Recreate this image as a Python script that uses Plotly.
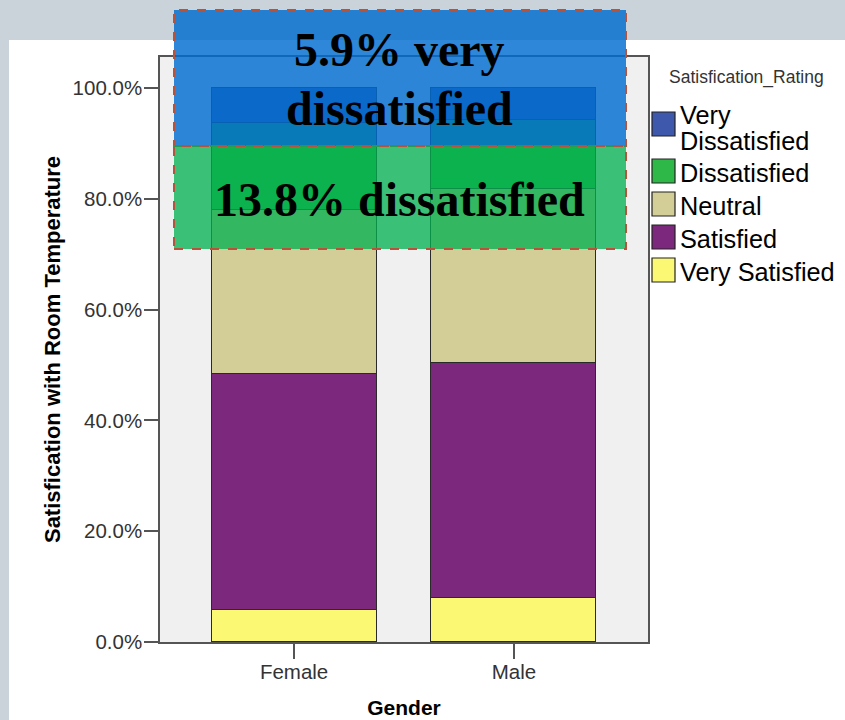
import plotly.graph_objects as go

# ---- data -------------------------------------------------------------
genders = ["Female", "Male"]
ratings = ["Very Satisfied", "Satisfied", "Neutral", "Dissatisfied", "Very Dissatisfied"]
very_satisfied = [5.7, 8.0]
satisfied = [42.7, 42.4]
neutral = [29.5, 31.4]
dissatisfied = [15.8, 12.5]
very_dissatisfied = [6.3, 5.7]
rating_colors = ["#FBF873", "#7C287D", "#D3CE97", "#2EB848", "#3E58AC"]
y_ticks = [0, 20, 40, 60, 80, 100]
overall_very_dissatisfied = 5.9
overall_dissatisfied = 13.8

series = [very_satisfied, satisfied, neutral, dissatisfied, very_dissatisfied]

# ---- page geometry (pixels) -------------------------------------------
W, H = 845, 720
ML, MR, MT, MB = 160, 197, 57, 78
PW, PH = W - ML - MR, H - MT - MB


def xp(px):
    return (px - ML) / PW


def yp(py):
    return (H - MB - py) / PH


SANS = "Liberation Sans, Arial, sans-serif"
SERIF = "Liberation Serif, Times New Roman, serif"

fig = go.Figure()
for name, vals, col in zip(ratings, series, rating_colors):
    fig.add_trace(go.Bar(
        x=genders, y=vals, name=name, width=0.75,
        marker=dict(color=col, line=dict(color="#2a2a2a", width=1)),
        showlegend=False,
    ))

shapes = []
annotations = []

# gray frame strips around the white page
shapes.append(dict(type="rect", xref="paper", yref="paper", layer="below",
                   x0=xp(0), x1=xp(W), y0=yp(40), y1=yp(0),
                   fillcolor="#C9D3D9", line=dict(width=0)))
shapes.append(dict(type="rect", xref="paper", yref="paper", layer="below",
                   x0=xp(0), x1=xp(9), y0=yp(H), y1=yp(0),
                   fillcolor="#C9D3D9", line=dict(width=0)))

# highlight boxes over the top of the bars
box_x0, box_x1 = 174, 626
shapes.append(dict(type="rect", xref="paper", yref="paper", layer="above",
                   x0=xp(box_x0), x1=xp(box_x1), y0=yp(146), y1=yp(10),
                   fillcolor="rgba(0,108,208,0.82)",
                   line=dict(color="#B5533C", width=2, dash="dash")))
shapes.append(dict(type="rect", xref="paper", yref="paper", layer="above",
                   x0=xp(box_x0), x1=xp(box_x1), y0=yp(249), y1=yp(146),
                   fillcolor="rgba(0,176,80,0.76)",
                   line=dict(color="#B5533C", width=2, dash="dash")))

big_font = dict(family=SERIF, size=48, color="#000000")
for text, py in [(f"<b>{overall_very_dissatisfied}% very</b>", 49),
                 ("<b>dissatisfied</b>", 108),
                 (f"<b>{overall_dissatisfied}% dissatisfied</b>", 199)]:
    annotations.append(dict(text=text, xref="paper", yref="paper",
                            x=xp(399), y=yp(py), xanchor="center", yanchor="middle",
                            showarrow=False, font=big_font))

# legend drawn beside the plot
annotations.append(dict(text="Satisfication_Rating", xref="paper", yref="paper",
                        x=xp(746), y=yp(77), xanchor="center", yanchor="middle",
                        showarrow=False, font=dict(family=SANS, size=17.5, color="#333333")))
legend_order = list(zip(ratings, rating_colors))[::-1]
top = 112
for name, col in legend_order:
    lines = name.split(" ", 1) if len(name) > 14 else [name]
    shapes.append(dict(type="rect", xref="paper", yref="paper", layer="above",
                       x0=xp(652), x1=xp(675), y0=yp(top + 24), y1=yp(top),
                       fillcolor=col, line=dict(color="#222222", width=1.2)))
    if len(lines) > 1:
        first_center = top + 3
        step = 26
    else:
        first_center = top + 13.5
        step = 0
    for i, ln in enumerate(lines):
        annotations.append(dict(text=ln, xref="paper", yref="paper",
                                x=xp(678), y=yp(first_center + step * i),
                                xanchor="left", yanchor="middle", showarrow=False,
                                font=dict(family=SANS, size=25.3, color="#000000")))
    top += 33 + 14 * (len(lines) - 1)

fig.update_layout(
    width=W, height=H,
    margin=dict(l=ML, r=MR, t=MT, b=MB, pad=0),
    barmode="stack", bargap=0,
    paper_bgcolor="#FFFFFF", plot_bgcolor="#F0F0F0",
    shapes=shapes, annotations=annotations,
    showlegend=False,
    font=dict(family=SANS),
)
fig.update_xaxes(
    range=[-0.61, 1.61], showline=True, mirror=True, linecolor="#555555", linewidth=1.5,
    ticks="outside", ticklen=15, tickcolor="#555555", tickwidth=1.5,
    ticklabelstandoff=-4,
    tickfont=dict(family=SANS, size=20.5, color="#333333"),
    showgrid=False, zeroline=False,
    title=dict(text="<b>Gender</b>", font=dict(family=SANS, size=21, color="#000000"), standoff=18),
    automargin=False,
)
fig.update_yaxes(
    range=[0, 105.6], showline=True, mirror=True, linecolor="#555555", linewidth=1.5,
    ticks="outside", ticklen=14, tickcolor="#555555", tickwidth=1.5,
    ticklabelstandoff=-2,
    tickvals=y_ticks, ticktext=[f"{v:.1f}%" for v in y_ticks],
    tickfont=dict(family=SANS, size=20.5, color="#333333"),
    showgrid=False, zeroline=False,
    title=dict(text="<b>Satisfication with Room Temperature</b>",
               font=dict(family=SANS, size=22, color="#000000"), standoff=6),
    automargin=False,
)

fig.write_html("out.html")
